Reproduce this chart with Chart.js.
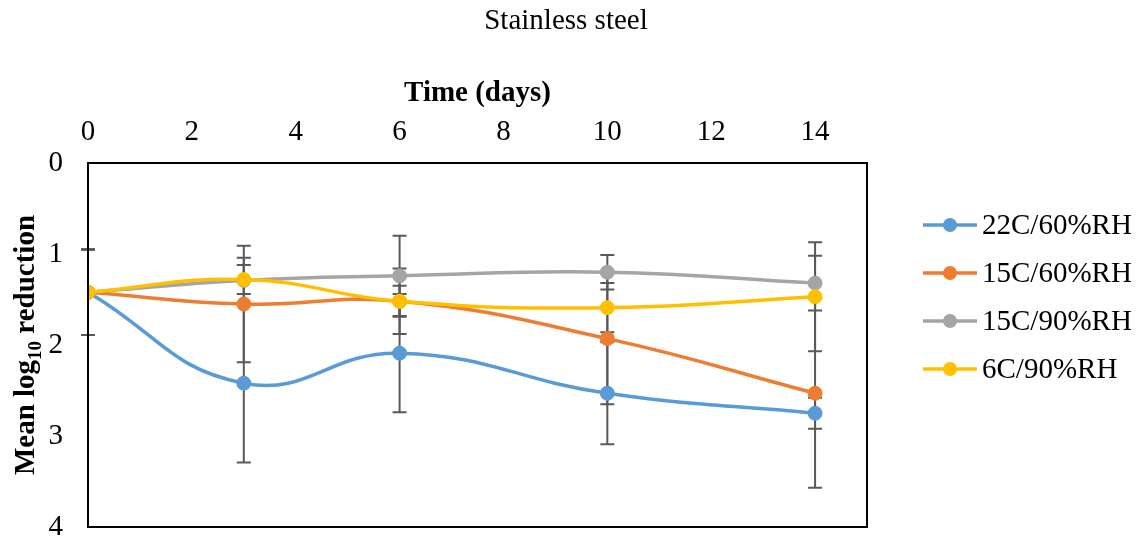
<!DOCTYPE html>
<html>
<head>
<meta charset="utf-8">
<script src="https://cdn.jsdelivr.net/npm/chart.js@4"></script>
<style>
  html, body { margin: 0; padding: 0; background: #fff; }
  canvas { display: block; }
</style>
</head>
<body>
<canvas id="c" width="1138" height="539"></canvas>
<script>
const chartTitle = 'Stainless steel';
const xTitle = 'Time (days)';
const days = [0, 3, 6, 10, 14];
const seriesNames = ['22C/60%RH', '15C/60%RH', '15C/90%RH', '6C/90%RH'];
const seriesColors = ['#5B9BD5', '#ED7D31', '#A5A5A5', '#FFC000'];
const s22c60 = [1.42, 2.42, 2.09, 2.53, 2.75];
const s15c60 = [1.42, 1.55, 1.52, 1.93, 2.53];
const s15c90 = [1.42, 1.29, 1.24, 1.20, 1.32];
const s6c90  = [1.42, 1.28, 1.52, 1.59, 1.47];
const e22c60 = [0.47, 0.87, 0.65, 0.56, 0.17];
const e15c60 = [0.47, 0.64, 0.17, 0.72, 1.04];
const e15c90 = [0.47, 0.25, 0.44, 0.19, 0.30];
const e6c90  = [0.47, 0.16, 0.36, 0.27, 0.60];
const yTicks = [0, 1, 2, 3, 4];
const xTicks = [0, 2, 4, 6, 8, 10, 12, 14];

const FONT = '"Liberation Serif", "Times New Roman", serif';
const values = [s22c60, s15c60, s15c90, s6c90];
const errors = [e22c60, e15c60, e15c90, e6c90];

const datasets = values.map((vals, i) => ({
  label: seriesNames[i],
  data: vals.map((v, j) => ({x: days[j], y: v})),
  errs: errors[i],
  order: values.length - i,
  borderColor: seriesColors[i],
  backgroundColor: seriesColors[i],
  pointBackgroundColor: seriesColors[i],
  pointBorderColor: seriesColors[i],
  borderWidth: 3.5,
  pointRadius: 7,
  pointBorderWidth: 1,
  tension: 0.45,
  fill: false
}));

const errorBars = {
  id: 'errorBars',
  beforeDatasetsDraw(chart) {
    const ctx = chart.ctx, xs = chart.scales.x, ys = chart.scales.y;
    ctx.save();
    ctx.strokeStyle = '#595959';
    ctx.lineWidth = 2;
    chart.data.datasets.forEach(ds => {
      ds.data.forEach((p, j) => {
        const e = ds.errs[j];
        const x = xs.getPixelForValue(p.x);
        const y1 = ys.getPixelForValue(p.y - e);
        const y2 = ys.getPixelForValue(p.y + e);
        ctx.beginPath();
        ctx.moveTo(x, y1); ctx.lineTo(x, y2);
        ctx.moveTo(x - 7, y1); ctx.lineTo(x + 7, y1);
        ctx.moveTo(x - 7, y2); ctx.lineTo(x + 7, y2);
        ctx.stroke();
      });
    });
    ctx.restore();
  }
};

const decorations = {
  id: 'decorations',
  afterDraw(chart) {
    const ctx = chart.ctx, a = chart.chartArea;
    ctx.save();
    ctx.strokeStyle = '#000';
    ctx.lineWidth = 2;
    ctx.strokeRect(a.left, a.top, a.right - a.left, a.bottom - a.top);
    ctx.fillStyle = '#000';
    ctx.font = '29px ' + FONT;
    ctx.textAlign = 'center';
    ctx.textBaseline = 'middle';
    ctx.fillText(chartTitle, 566, 21);
    const p1 = 'Mean log', sub = '10', p2 = ' reduction';
    const fMain = 'bold 29px ' + FONT, fSub = 'bold 19px ' + FONT;
    ctx.font = fMain; const w1 = ctx.measureText(p1).width, w3 = ctx.measureText(p2).width;
    ctx.font = fSub; const w2 = ctx.measureText(sub).width;
    const total = w1 + w2 + w3;
    ctx.translate(34, (a.top + a.bottom) / 2);
    ctx.rotate(-Math.PI / 2);
    ctx.textAlign = 'left';
    ctx.textBaseline = 'alphabetic';
    let x = -total / 2;
    ctx.font = fMain; ctx.fillText(p1, x, 0); x += w1;
    ctx.font = fSub; ctx.fillText(sub, x, 7); x += w2;
    ctx.font = fMain; ctx.fillText(p2, x, 0);
    ctx.restore();
    ctx.save();
    const ys0 = [225, 273, 321, 369];
    chart.data.datasets.forEach((ds, i) => {
      const y = ys0[i];
      ctx.strokeStyle = ds.borderColor;
      ctx.lineWidth = 3.5;
      ctx.beginPath(); ctx.moveTo(923, y); ctx.lineTo(977, y); ctx.stroke();
      ctx.fillStyle = ds.borderColor;
      ctx.beginPath(); ctx.arc(950, y, 7, 0, Math.PI * 2); ctx.fill();
      ctx.fillStyle = '#000';
      ctx.font = '29px ' + FONT;
      ctx.textAlign = 'left';
      ctx.textBaseline = 'middle';
      ctx.fillText(ds.label, 982, y + 1);
    });
    ctx.restore();
  }
};

function zeroPad(s) {
  s.paddingTop = 0; s.paddingBottom = 0; s.paddingLeft = 0; s.paddingRight = 0;
}

new Chart(document.getElementById('c'), {
  type: 'line',
  data: { datasets },
  options: {
    responsive: false,
    animation: false,
    layout: { padding: { top: 60, left: 0, right: 271, bottom: 12 } },
    plugins: { legend: { display: false }, title: { display: false }, tooltip: { enabled: false } },
    scales: {
      x: {
        type: 'linear', position: 'top', min: 0, max: 15,
        afterBuildTicks: s => { s.ticks = xTicks.map(v => ({value: v})); },
        afterFit: s => { s.height = 103; zeroPad(s); },
        grid: { display: false, drawTicks: false },
        border: { display: false },
        ticks: { color: '#000', font: { family: FONT, size: 29 }, padding: 13, maxRotation: 0 },
        title: { display: true, text: xTitle, color: '#000', font: { family: FONT, size: 29, weight: 'bold' }, padding: { top: 16, bottom: 0 } }
      },
      y: {
        type: 'linear', reverse: true, min: 0, max: 4,
        afterBuildTicks: s => { s.ticks = yTicks.map(v => ({value: v})); },
        afterFit: s => { s.width = 88; zeroPad(s); },
        grid: { display: false, drawTicks: false },
        border: { display: false },
        ticks: { color: '#000', font: { family: FONT, size: 29 }, padding: 25 }
      }
    }
  },
  plugins: [errorBars, decorations]
});
</script>
</body>
</html>
